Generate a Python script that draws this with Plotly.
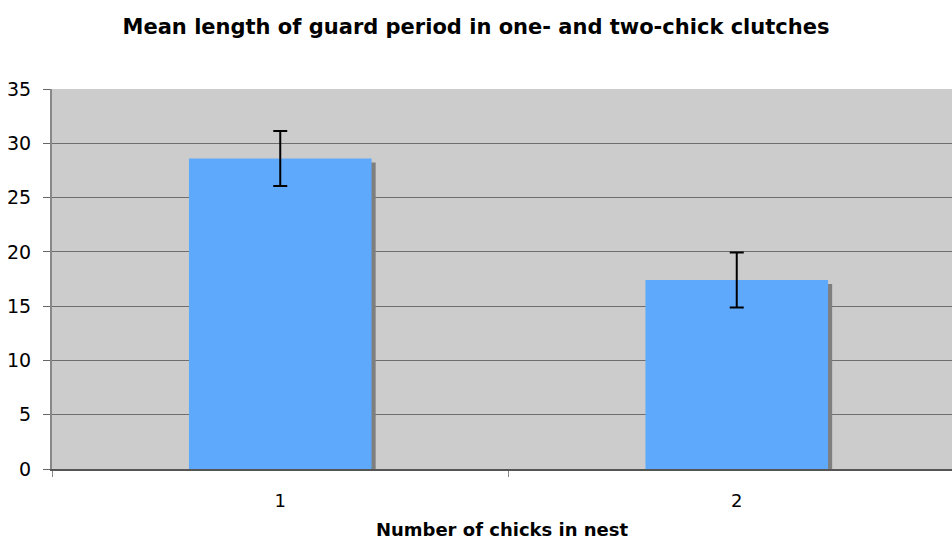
import plotly.graph_objects as go

categories = ["1", "2"]
means = [28.6, 17.4]
errors = [2.53, 2.53]

xpos = list(range(len(categories)))
bar_w = 0.40
shadow_dx = 0.009
shadow_dy = 0.37

fig = go.Figure()
# shadow
fig.add_trace(go.Bar(
    x=xpos, y=means, base=[-shadow_dy] * len(means), width=bar_w,
    offset=-bar_w / 2 + shadow_dx,
    marker=dict(color="#7f7f7f", line=dict(width=0)),
    hoverinfo="skip", showlegend=False,
))
fig.add_trace(go.Bar(
    x=xpos, y=means, width=bar_w, offset=-bar_w / 2,
    marker=dict(color="#5ea9fc", line=dict(width=0)),
    error_y=dict(type="data", array=errors, visible=True, color="#000000",
                 thickness=2, width=7),
    showlegend=False,
))

fig.update_layout(
    width=952, height=540,
    barmode="overlay",
    paper_bgcolor="white", plot_bgcolor="#cccccc",
    margin=dict(l=52, r=0, t=89, b=71),
    font=dict(family="DejaVu Sans", color="#000000"),
    title=dict(text="<b>Mean length of guard period in one- and two-chick clutches</b>",
               x=0.5, xanchor="center", y=1 - 27 / 540, yanchor="middle",
               font=dict(size=21, family="DejaVu Sans")),
)
fig.update_xaxes(
    range=[-0.5, -0.5 + 900 / 456.5],
    automargin=False,
    tickmode="array", tickvals=xpos, ticktext=categories,
    ticks="", ticklabelstandoff=14,
    tickfont=dict(size=18),
    minor=dict(tickmode="array", tickvals=[-0.5, 0.5, 1.5], ticks="outside",
               ticklen=6, tickcolor="#888888", tickwidth=1, showgrid=False),
    showgrid=False, zeroline=False,
    showline=True, linecolor="#555555", linewidth=2,
    title=dict(text="<b>Number of chicks in nest</b>", font=dict(size=18), standoff=20),
)
fig.update_yaxes(
    range=[0, 35], tickmode="array", tickvals=[0, 5, 10, 15, 20, 25, 30, 35],
    automargin=False,
    ticks="outside", ticklen=7, tickcolor="#666666", tickwidth=1,
    ticklabelstandoff=8,
    tickfont=dict(size=19),
    showgrid=True, gridcolor="#6e6e6e", gridwidth=1,
    zeroline=False, showline=True, linecolor="#888888", linewidth=2,
)

fig.write_html("out.html", config={"displayModeBar": False},
               post_script="document.body.style.margin='0';")
